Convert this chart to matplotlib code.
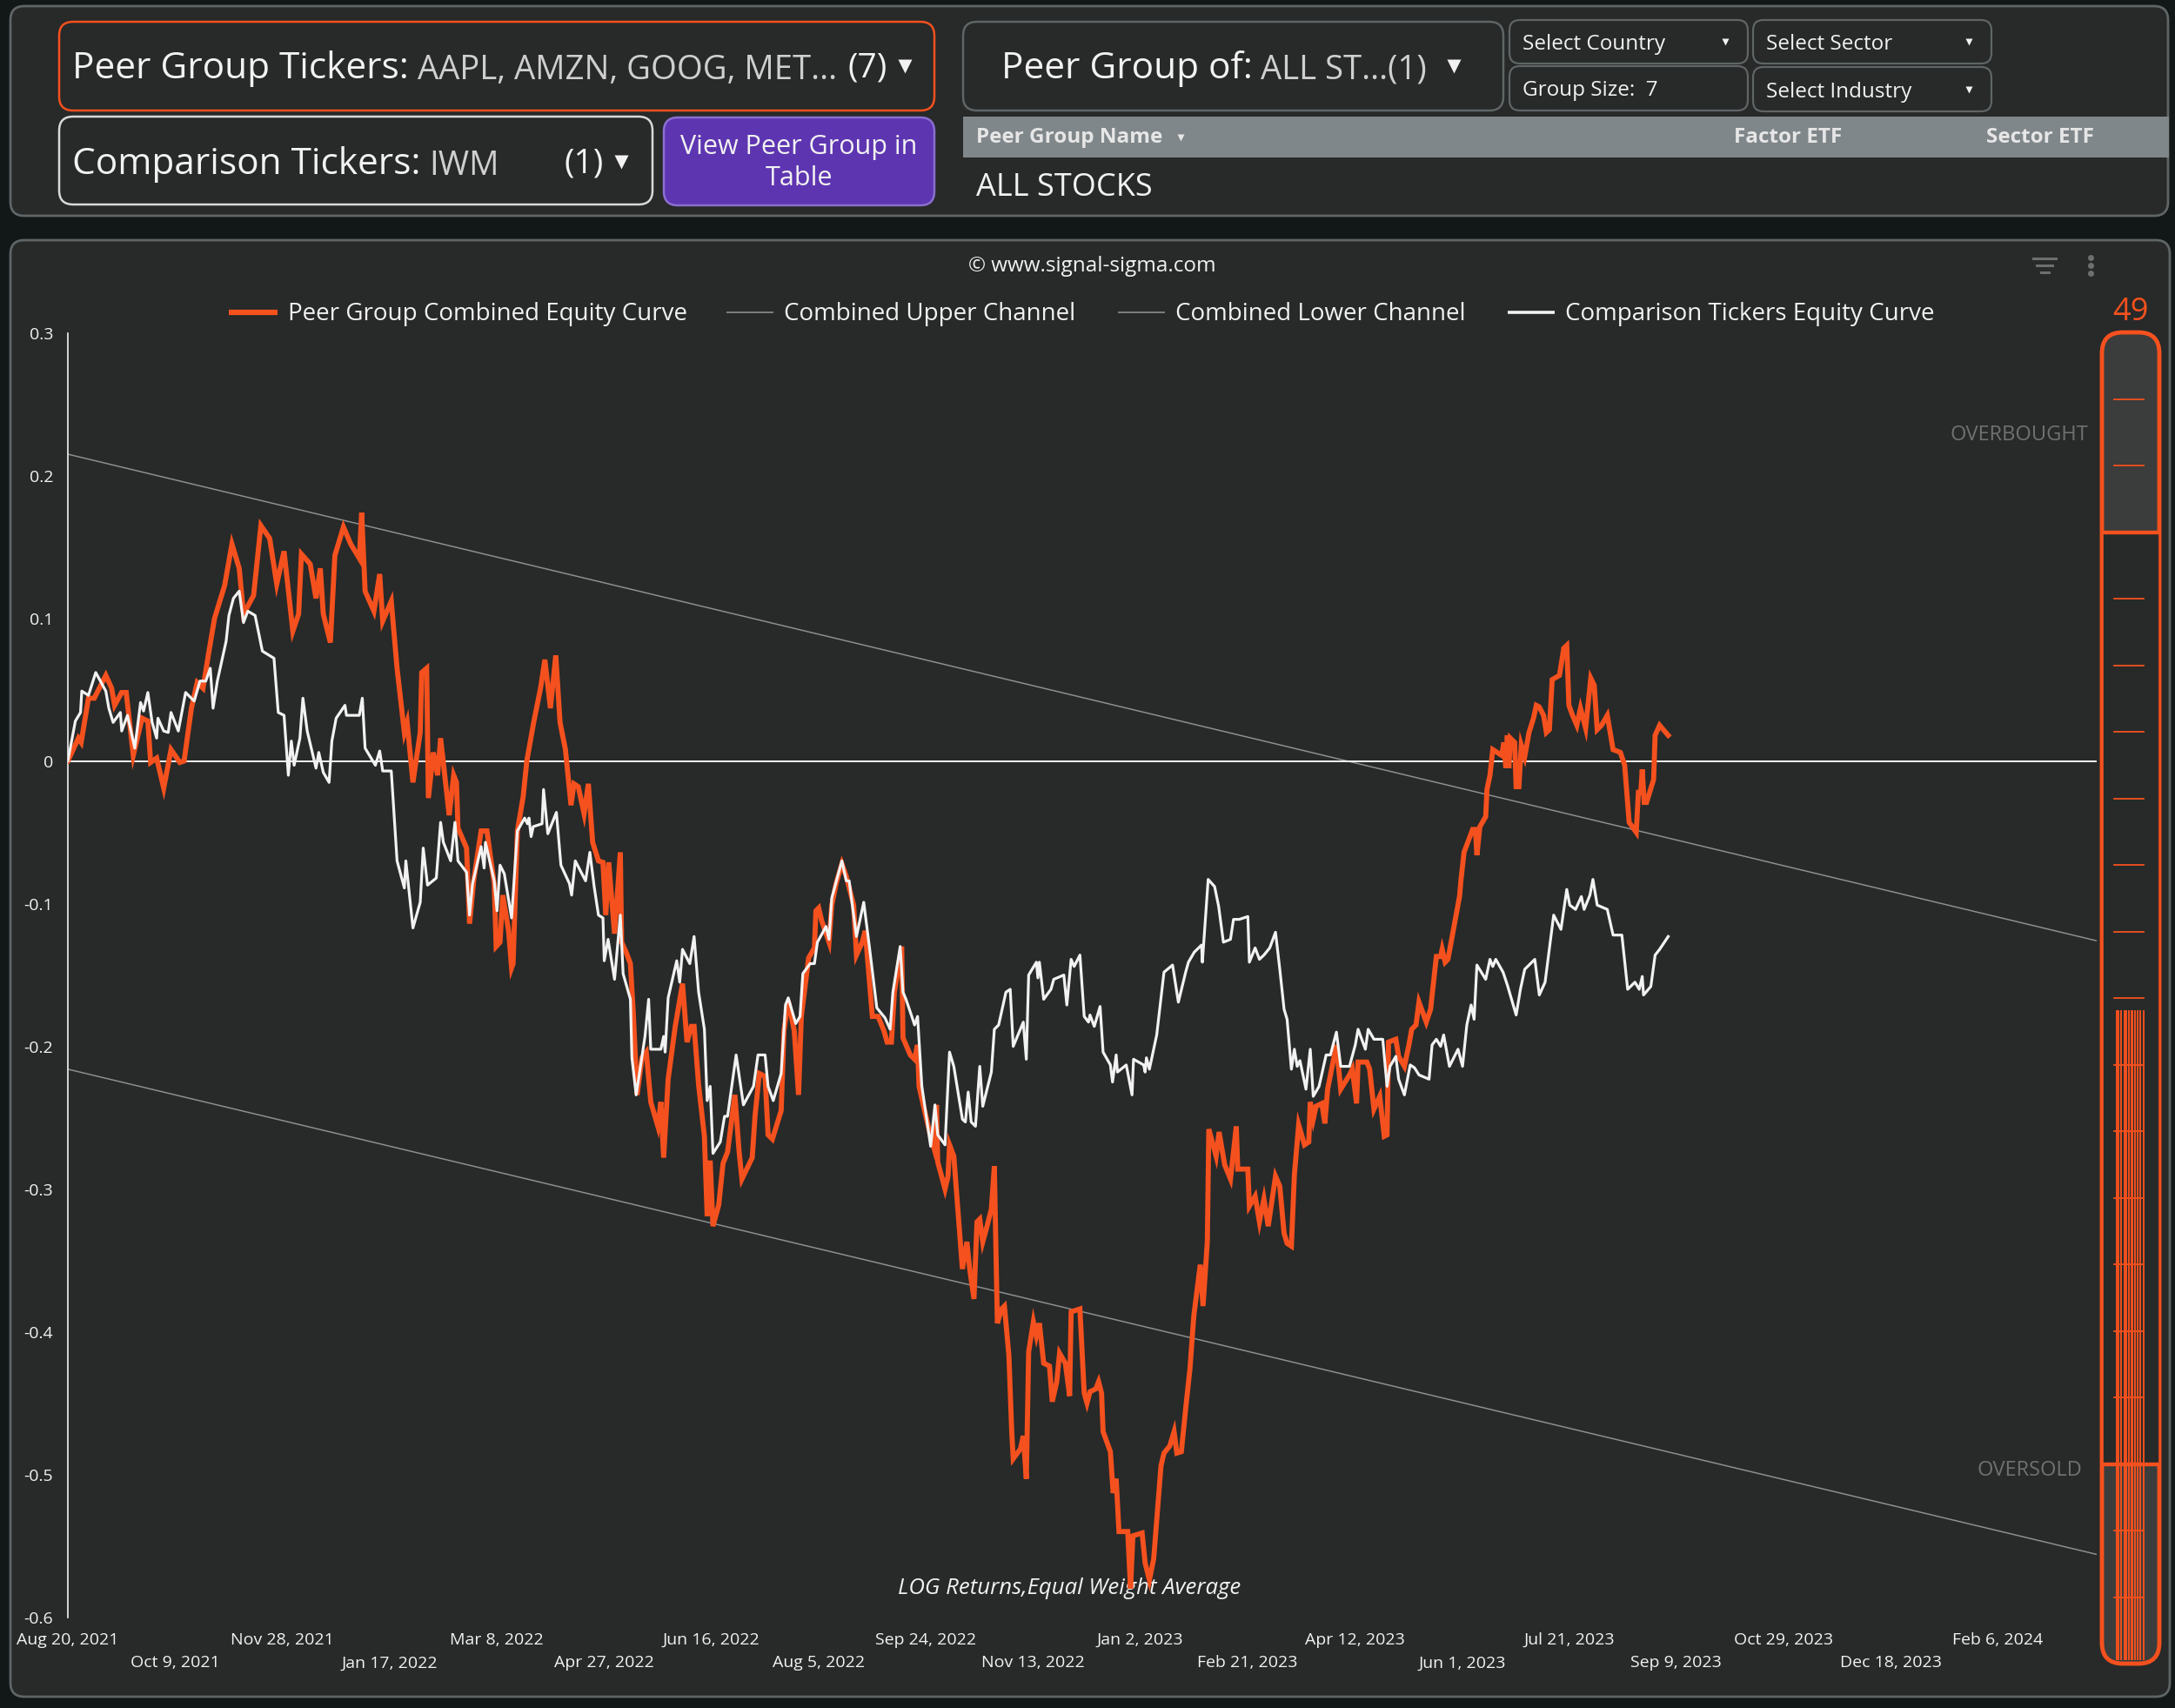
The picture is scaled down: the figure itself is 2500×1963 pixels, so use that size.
import pandas as pd
import matplotlib
matplotlib.use("Agg")
import matplotlib.pyplot as plt
from matplotlib.patches import FancyBboxPatch

START = pd.Timestamp("2021-08-20")

# (days after Aug 20 2021, log return)
peer_points = [
    (0, 0.000), (4.9, 0.016), (6.2, 0.013), (9.6, 0.044), (12.3, 0.044), (17.7, 0.060), (20.4, 0.051),
    (21.8, 0.039), (25.1, 0.048), (27.2, 0.048), (30.5, 0.004), (34.6, 0.030), (37.3, 0.028),
    (38.6, -0.001), (41.4, 0.002), (44.7, -0.019), (48.1, 0.008), (52.2, -0.001), (54.2, 0.000),
    (57.6, 0.037), (60.3, 0.055), (63.0, 0.051), (65.7, 0.076), (68.4, 0.100), (73.1, 0.123),
    (76.5, 0.152), (79.9, 0.135), (81.9, 0.103), (86.6, 0.116), (90.0, 0.165), (94.1, 0.156),
    (97.4, 0.124), (100.8, 0.147), (104.9, 0.091), (107.6, 0.103), (108.9, 0.145), (113.0, 0.138),
    (115.7, 0.114), (117.7, 0.135), (119.1, 0.103), (122.4, 0.083), (124.5, 0.144), (128.5, 0.164),
    (131.9, 0.152), (135.9, 0.142), (137.0, 0.174), (138.6, 0.119), (142.7, 0.105), (145.4, 0.131),
    (146.8, 0.098), (150.8, 0.112), (153.5, 0.065), (156.9, 0.020), (158.2, 0.027), (160.9, -0.015),
    (164.3, 0.020), (165.0, 0.062), (167.3, 0.065), (168.1, -0.026), (170.4, 0.006), (172.4, -0.010),
    (173.8, 0.016), (177.8, -0.038), (179.9, -0.010), (181.2, -0.015), (181.9, -0.047), (185.9, -0.061),
    (187.3, -0.114), (189.3, -0.083), (192.7, -0.049), (195.4, -0.049), (198.8, -0.086), (199.7, -0.130),
    (201.5, -0.127), (202.8, -0.094), (205.5, -0.119), (206.9, -0.145), (207.6, -0.142), (209.6, -0.049),
    (212.3, -0.025), (214.0, 0.000), (217.2, 0.027), (220.4, 0.051), (222.4, 0.071), (225.0, 0.037),
    (227.5, 0.074), (229.5, 0.027), (232.0, 0.008), (234.6, -0.031), (236.0, -0.016), (238.0, -0.018),
    (240.7, -0.037), (242.7, -0.016), (244.7, -0.057), (247.4, -0.070), (249.5, -0.071), (250.8, -0.108),
    (252.2, -0.071), (254.9, -0.121), (257.6, -0.064), (258.2, -0.127), (260.3, -0.134), (262.3, -0.142),
    (263.7, -0.178), (265.4, -0.234), (267.7, -0.208), (269.7, -0.204), (271.8, -0.239), (275.1, -0.256),
    (276.5, -0.239), (277.8, -0.278), (279.9, -0.223), (283.2, -0.186), (286.6, -0.156), (288.7, -0.197),
    (290.7, -0.186), (292.0, -0.186), (294.1, -0.227), (296.8, -0.263), (298.1, -0.319), (299.5, -0.280),
    (300.8, -0.326), (303.5, -0.311), (305.5, -0.282), (307.6, -0.274), (311.0, -0.234), (313.0, -0.274),
    (314.3, -0.293), (319.1, -0.278), (320.4, -0.249), (322.4, -0.219), (325.1, -0.221), (326.5, -0.262),
    (328.5, -0.265), (332.6, -0.245), (333.9, -0.189), (335.9, -0.168), (338.7, -0.189), (340.7, -0.234),
    (342.0, -0.179), (345.4, -0.138), (348.1, -0.131), (348.8, -0.105), (350.1, -0.103), (351.5, -0.112),
    (354.9, -0.127), (356.2, -0.101), (358.2, -0.086), (360.9, -0.072), (363.0, -0.081), (366.4, -0.101),
    (367.7, -0.136), (370.4, -0.127), (371.8, -0.119), (375.1, -0.179), (377.8, -0.179), (380.5, -0.189),
    (382.0, -0.197), (384.0, -0.197), (385.4, -0.162), (388.8, -0.130), (389.4, -0.194), (392.8, -0.206),
    (394.8, -0.209), (396.2, -0.199), (396.9, -0.228), (399.6, -0.246), (402.3, -0.263), (403.6, -0.270),
    (405.0, -0.241), (405.6, -0.281), (409.0, -0.300), (410.4, -0.291), (411.1, -0.269), (413.1, -0.277),
    (415.8, -0.330), (417.1, -0.356), (419.2, -0.337), (420.5, -0.356), (422.5, -0.377), (423.9, -0.323),
    (425.2, -0.321), (426.6, -0.337), (428.6, -0.326), (430.6, -0.314), (432.0, -0.284), (433.4, -0.394),
    (435.4, -0.384), (436.7, -0.382), (438.8, -0.417), (440.1, -0.470), (440.8, -0.489), (444.2, -0.482),
    (445.5, -0.473), (446.9, -0.503), (448.0, -0.414), (450.2, -0.393), (451.6, -0.403), (453.0, -0.394),
    (455.0, -0.422), (457.7, -0.424), (459.0, -0.449), (461.1, -0.435), (462.4, -0.415), (465.1, -0.422),
    (467.1, -0.445), (467.8, -0.386), (471.9, -0.384), (473.9, -0.443), (475.2, -0.450), (476.6, -0.442),
    (479.3, -0.440), (480.6, -0.435), (482.0, -0.443), (482.7, -0.470), (486.1, -0.484), (487.4, -0.513),
    (488.8, -0.503), (490.1, -0.540), (494.2, -0.540), (495.5, -0.580), (496.6, -0.543), (500.9, -0.541),
    (502.3, -0.562), (504.3, -0.574), (506.3, -0.559), (509.7, -0.494), (511.1, -0.485), (513.8, -0.480),
    (515.8, -0.470), (517.1, -0.485), (519.2, -0.484), (521.2, -0.454), (523.2, -0.426), (525.0, -0.389),
    (528.0, -0.353), (529.3, -0.382), (531.3, -0.337), (532.0, -0.258), (535.4, -0.277), (536.8, -0.260),
    (539.4, -0.283), (542.1, -0.293), (544.8, -0.256), (545.5, -0.286), (550.2, -0.286), (550.9, -0.312),
    (553.6, -0.305), (555.6, -0.323), (557.7, -0.307), (559.7, -0.326), (563.1, -0.291), (565.1, -0.298),
    (567.1, -0.331), (568.5, -0.338), (570.5, -0.340), (571.9, -0.290), (573.9, -0.255), (576.6, -0.269),
    (578.6, -0.267), (579.3, -0.239), (580.7, -0.251), (582.0, -0.242), (584.7, -0.240), (586.1, -0.254),
    (587.4, -0.230), (591.5, -0.199), (593.5, -0.230), (597.6, -0.220), (598.9, -0.216), (600.9, -0.240),
    (601.6, -0.211), (605.7, -0.211), (607.0, -0.216), (609.0, -0.244), (611.7, -0.235), (613.8, -0.263),
    (615.1, -0.262), (615.8, -0.197), (619.2, -0.195), (620.5, -0.207), (623.2, -0.214), (625.3, -0.199),
    (626.6, -0.188), (628.6, -0.185), (630.0, -0.169), (633.4, -0.183), (635.4, -0.174), (638.1, -0.137),
    (640.1, -0.137), (640.8, -0.132), (642.2, -0.141), (643.5, -0.139), (648.9, -0.095), (649.6, -0.083),
    (651.0, -0.064), (655.0, -0.048), (656.3, -0.048), (657.0, -0.066), (658.4, -0.046), (661.1, -0.039),
    (661.7, -0.020), (663.1, -0.010), (664.4, 0.008), (668.5, 0.004), (669.6, 0.013), (670.5, -0.005),
    (671.2, 0.018), (671.9, -0.005), (672.6, 0.016), (674.6, 0.013), (675.3, -0.018), (676.6, -0.018),
    (677.7, 0.011), (679.3, 0.003), (681.3, 0.020), (683.4, 0.030), (684.7, 0.039), (686.0, 0.038),
    (688.1, 0.032), (689.4, 0.020), (690.8, 0.022), (692.1, 0.057), (695.5, 0.060), (697.5, 0.079),
    (698.9, 0.081), (699.9, 0.039), (701.6, 0.032), (703.6, 0.025), (705.3, 0.037), (707.7, 0.023),
    (710.1, 0.058), (711.7, 0.053), (713.1, 0.022), (715.1, 0.025), (717.8, 0.032), (720.5, 0.008),
    (723.9, 0.006), (725.9, -0.003), (728.0, -0.043), (731.3, -0.050), (732.3, -0.022), (733.4, -0.022),
    (734.1, -0.006), (735.0, -0.029), (736.1, -0.029), (739.4, -0.013), (740.1, 0.018), (742.2, 0.025),
    (746.2, 0.018),
]

comp_points = [
    (0, 0.000), (3.5, 0.028), (5.9, 0.034), (6.5, 0.049), (9.6, 0.046), (13.0, 0.062), (17.7, 0.049),
    (19.1, 0.037), (21.1, 0.027), (24.5, 0.034), (25.1, 0.021), (27.8, 0.032), (31.2, 0.009),
    (33.9, 0.041), (35.3, 0.035), (37.3, 0.048), (39.3, 0.027), (41.4, 0.016), (42.0, 0.030),
    (44.7, 0.021), (46.8, 0.020), (48.1, 0.034), (51.5, 0.021), (54.9, 0.048), (58.9, 0.042),
    (61.6, 0.056), (64.3, 0.056), (66.4, 0.065), (67.7, 0.037), (69.7, 0.056), (73.8, 0.084),
    (75.1, 0.102), (77.2, 0.114), (79.9, 0.119), (81.9, 0.097), (83.9, 0.105), (87.3, 0.102),
    (90.7, 0.077), (96.1, 0.072), (98.1, 0.034), (100.8, 0.032), (102.8, -0.010), (104.2, 0.014),
    (105.5, -0.003), (108.2, 0.016), (109.6, 0.044), (111.6, 0.021), (115.7, -0.005), (117.0, 0.006),
    (119.1, -0.008), (121.8, -0.015), (123.1, 0.014), (125.1, 0.030), (129.2, 0.039), (129.9, 0.032),
    (135.9, 0.032), (137.3, 0.044), (138.6, 0.009), (143.4, -0.003), (145.4, 0.007), (146.8, -0.007),
    (150.8, -0.007), (153.5, -0.070), (156.9, -0.089), (157.6, -0.070), (160.9, -0.117), (164.3, -0.099),
    (165.7, -0.061), (167.7, -0.087), (171.8, -0.082), (173.8, -0.043), (175.1, -0.057), (178.5, -0.070),
    (180.5, -0.043), (181.9, -0.070), (185.9, -0.078), (187.3, -0.108), (188.7, -0.086), (192.7, -0.060),
    (194.1, -0.075), (194.7, -0.057), (198.8, -0.084), (200.1, -0.105), (201.5, -0.073), (203.5, -0.079),
    (206.9, -0.110), (209.6, -0.049), (213.0, -0.040), (214.3, -0.044), (215.0, -0.040), (216.0, -0.053),
    (217.0, -0.046), (221.1, -0.044), (221.8, -0.020), (223.8, -0.051), (227.8, -0.036), (229.9, -0.073),
    (233.9, -0.086), (234.9, -0.094), (236.6, -0.070), (241.4, -0.084), (243.4, -0.064), (245.4, -0.088),
    (247.4, -0.108), (249.5, -0.110), (250.1, -0.140), (251.9, -0.125), (254.9, -0.153), (257.6, -0.108),
    (258.9, -0.149), (262.3, -0.167), (263.0, -0.208), (265.0, -0.234), (269.1, -0.193), (270.8, -0.167),
    (271.8, -0.202), (276.5, -0.202), (277.8, -0.193), (278.5, -0.204), (279.9, -0.166), (283.9, -0.140),
    (285.3, -0.155), (286.6, -0.132), (290.0, -0.142), (292.0, -0.123), (294.1, -0.162), (296.8, -0.188),
    (298.1, -0.238), (299.5, -0.228), (300.8, -0.275), (304.2, -0.267), (306.2, -0.249), (307.6, -0.249),
    (311.6, -0.206), (315.0, -0.241), (319.7, -0.228), (321.8, -0.206), (325.1, -0.206), (326.5, -0.228),
    (328.9, -0.238), (332.6, -0.219), (334.6, -0.171), (335.9, -0.166), (339.4, -0.184), (341.4, -0.179),
    (342.7, -0.149), (346.1, -0.142), (348.1, -0.142), (349.5, -0.127), (353.5, -0.116), (354.9, -0.125),
    (356.2, -0.096), (360.9, -0.070), (363.0, -0.084), (364.3, -0.084), (367.7, -0.123), (371.1, -0.099),
    (373.8, -0.131), (377.2, -0.173), (381.0, -0.180), (383.4, -0.188), (384.7, -0.162), (388.1, -0.130),
    (389.4, -0.162), (390.8, -0.167), (393.5, -0.179), (394.8, -0.185), (396.2, -0.179), (398.2, -0.228),
    (402.3, -0.270), (404.3, -0.241), (405.6, -0.262), (409.0, -0.269), (411.1, -0.204), (413.1, -0.214),
    (417.1, -0.251), (418.5, -0.253), (419.8, -0.232), (421.2, -0.253), (423.2, -0.256), (425.2, -0.214),
    (426.6, -0.242), (430.6, -0.218), (432.0, -0.188), (434.0, -0.185), (437.4, -0.162), (439.4, -0.160),
    (440.8, -0.200), (445.5, -0.183), (446.9, -0.209), (448.0, -0.150), (451.6, -0.141), (452.3, -0.152),
    (453.0, -0.141), (455.0, -0.167), (458.4, -0.160), (459.7, -0.153), (464.4, -0.150), (465.8, -0.171),
    (467.8, -0.139), (469.2, -0.144), (471.9, -0.136), (473.9, -0.179), (475.9, -0.183), (476.6, -0.178),
    (478.6, -0.186), (481.3, -0.172), (482.7, -0.204), (486.1, -0.213), (487.1, -0.225), (488.8, -0.206),
    (489.4, -0.218), (493.5, -0.213), (496.2, -0.234), (496.9, -0.209), (501.6, -0.213), (502.3, -0.218),
    (502.9, -0.208), (504.3, -0.216), (507.7, -0.192), (511.1, -0.148), (515.1, -0.143), (517.8, -0.169),
    (521.2, -0.148), (522.5, -0.141), (525.2, -0.134), (528.6, -0.129), (529.0, -0.141), (531.7, -0.083),
    (534.7, -0.088), (536.6, -0.102), (538.8, -0.127), (542.1, -0.125), (543.5, -0.111), (546.2, -0.111),
    (550.2, -0.109), (550.9, -0.141), (553.6, -0.131), (555.6, -0.139), (557.7, -0.136), (560.4, -0.131),
    (563.1, -0.120), (565.1, -0.146), (567.1, -0.174), (568.5, -0.181), (570.5, -0.216), (571.9, -0.202),
    (573.2, -0.214), (574.5, -0.210), (577.3, -0.230), (579.3, -0.202), (580.7, -0.235), (583.4, -0.228),
    (586.7, -0.206), (588.7, -0.206), (591.5, -0.190), (593.5, -0.214), (597.6, -0.214), (600.3, -0.199),
    (601.6, -0.188), (605.0, -0.202), (606.3, -0.188), (609.0, -0.195), (613.1, -0.195), (615.1, -0.228),
    (616.5, -0.214), (619.2, -0.207), (620.5, -0.223), (623.2, -0.234), (625.9, -0.213), (627.9, -0.215),
    (630.0, -0.220), (634.7, -0.223), (636.1, -0.199), (638.1, -0.195), (640.1, -0.200), (641.5, -0.192),
    (644.2, -0.214), (648.2, -0.202), (650.3, -0.214), (652.3, -0.185), (654.3, -0.171), (655.7, -0.181),
    (657.0, -0.143), (661.1, -0.153), (663.1, -0.139), (664.4, -0.144), (665.8, -0.139), (669.2, -0.148),
    (671.2, -0.157), (675.3, -0.178), (677.3, -0.160), (679.3, -0.146), (684.0, -0.139), (686.1, -0.164),
    (688.8, -0.155), (692.8, -0.108), (696.2, -0.118), (698.9, -0.090), (700.3, -0.101), (703.0, -0.104),
    (705.7, -0.095), (707.0, -0.104), (709.7, -0.094), (711.1, -0.083), (713.1, -0.101), (717.8, -0.104),
    (720.5, -0.122), (724.6, -0.122), (727.3, -0.160), (730.7, -0.155), (732.7, -0.160), (734.1, -0.151),
    (734.7, -0.164), (738.1, -0.158), (740.1, -0.136), (742.2, -0.132), (746.2, -0.123),
]

channel_days = [0, 946]
upper_channel = [0.215, -0.126]
lower_channel = [-0.216, -0.556]

tick_days = [0, 50, 100, 150, 200, 250, 300, 350, 400, 450, 500, 550, 600, 650, 700, 750, 800, 850, 900]
y_ticks = [0.3, 0.2, 0.1, 0, -0.1, -0.2, -0.3, -0.4, -0.5, -0.6]
y_tick_labels = ["0.3", "0.2", "0.1", "0", "-0.1", "-0.2", "-0.3", "-0.4", "-0.5", "-0.6"]

gauge_value = 49
overbought = 85
oversold = 15

PAGE = "#121718"
PANEL = "#282929"
EDGE = "#5f6566"
ORANGE = "#f4511e"
WHITE = "#f2f2f2"
GREY_TXT = "#cfcfcf"
FONT = ["Open Sans", "DejaVu Sans"]


def rbox(ax, x0, y0, x1, y1, fc, ec, lw=1.6, r=14, z=1):
    p = FancyBboxPatch((x0 + r, y0 + r), x1 - x0 - 2 * r, y1 - y0 - 2 * r,
                       boxstyle="round,pad=%d" % r, fc=fc, ec=ec, lw=lw, zorder=z)
    ax.add_patch(p)


def arrow(ax, x, y, size=11, color=WHITE):
    ax.plot([x], [y], marker="v", ms=size, color=color, mec="none", zorder=5)


def to_dates(days):
    return [START + pd.Timedelta(days=float(d)) for d in days]


def draw_top(ui):
    rbox(ui, 12, 7, 2492, 248, PANEL, EDGE, lw=2, r=16)

    rbox(ui, 68, 25, 1074, 127, PANEL, ORANGE, lw=1.8, r=16, z=2)
    ui.text(83, 79, "Peer Group Tickers:", fontsize=30.5, color=WHITE, va="center", family=FONT)
    ui.text(480, 81, "AAPL, AMZN, GOOG, MET...", fontsize=27.5, color=GREY_TXT, va="center", family=FONT)
    ui.text(974, 79, "(7)", fontsize=28, color=WHITE, va="center", family=FONT)
    arrow(ui, 1040, 76)

    rbox(ui, 68, 134, 750, 235, PANEL, "#d9d9d9", lw=1.8, r=16, z=2)
    ui.text(83, 189, "Comparison Tickers:", fontsize=30.5, color=WHITE, va="center", family=FONT)
    ui.text(493, 191, "IWM", fontsize=27.5, color=GREY_TXT, va="center", family=FONT)
    ui.text(649, 189, "(1)", fontsize=28, color=WHITE, va="center", family=FONT)
    arrow(ui, 714, 186)

    rbox(ui, 763, 135, 1074, 236, "#5e35b1", "#8a6fd0", lw=1.8, r=16, z=2)
    ui.text(918, 187, "View Peer Group in\nTable", fontsize=22, color=WHITE, ha="center",
            va="center", linespacing=1.28, family=FONT)

    rbox(ui, 1107, 25, 1728, 127, PANEL, EDGE, lw=1.8, r=16, z=2)
    ui.text(1151, 79, "Peer Group of:", fontsize=30.5, color=WHITE, va="center", family=FONT)
    ui.text(1449, 81, "ALL ST...(1)", fontsize=27.5, color=GREY_TXT, va="center", family=FONT)
    arrow(ui, 1671, 76)

    small = [(1735, 23, 2009, 73, "Select Country", True),
             (1735, 76, 2009, 127, "Group Size:  7", False),
             (2015, 23, 2289, 73, "Select Sector", True),
             (2015, 77, 2289, 128, "Select Industry", True)]
    for x0, y0, x1, y1, label, has_arrow in small:
        rbox(ui, x0, y0, x1, y1, PANEL, EDGE, lw=1.6, r=12, z=2)
        ui.text(x0 + 15, (y0 + y1) / 2 + 3, label, fontsize=17.5, color=WHITE, va="center", family=FONT)
        if has_arrow:
            arrow(ui, x1 - 26, (y0 + y1) / 2, size=6)

    ui.add_patch(plt.Rectangle((1107, 134), 1386, 47, fc="#80878a", ec="none", zorder=2))
    ui.text(1122, 158, "Peer Group Name", fontsize=17.5, weight="bold", color="#e6e6e6",
            va="center", family=FONT)
    arrow(ui, 1357, 158, size=6, color="#e6e6e6")
    ui.text(1993, 158, "Factor ETF", fontsize=17.5, weight="bold", color="#e6e6e6", va="center", family=FONT)
    ui.text(2283, 158, "Sector ETF", fontsize=17.5, weight="bold", color="#e6e6e6", va="center", family=FONT)
    ui.text(1122, 216, "ALL STOCKS", fontsize=26, color=WHITE, va="center", family=FONT)


def draw_chart_frame(ui):
    rbox(ui, 12, 276, 2494, 1950, PANEL, EDGE, lw=2, r=16)
    ui.text(1255, 306, "\u00a9 www.signal-sigma.com", fontsize=17.5, color=WHITE,
            ha="center", va="center", family=FONT)

    # filter + menu icons
    for w, dy in [(26, -8), (18, 0), (9, 8)]:
        ui.plot([2350 - w / 2, 2350 + w / 2], [305 + dy, 305 + dy], color="#6e6e6e", lw=2.2)
    for dy in [-9, 0, 9]:
        ui.plot([2403], [305 + dy], marker="o", ms=4, color="#6e6e6e")

    legend = [(263, 319, ORANGE, 4.5, "Peer Group Combined Equity Curve"),
              (835, 889, "#8a8f90", 1.2, "Combined Upper Channel"),
              (1285, 1339, "#8a8f90", 1.2, "Combined Lower Channel"),
              (1733, 1787, WHITE, 2.6, "Comparison Tickers Equity Curve")]
    for x0, x1, c, lw, label in legend:
        ui.plot([x0, x1], [359, 359], color=c, lw=lw, solid_capstyle="butt")
        ui.text(x1 + 12, 361, label, fontsize=20, color=WHITE, va="center", family=FONT)

    ui.text(2400, 500, "OVERBOUGHT", fontsize=17, color="#707070", ha="right", va="center", family=FONT)
    ui.text(2393, 1690, "OVERSOLD", fontsize=17, color="#707070", ha="right", va="center", family=FONT)
    ui.text(2449, 359, str(gauge_value), fontsize=26, color=ORANGE, ha="center", va="center", family=FONT)

    # gauge body
    rbox(ui, 2416, 382, 2482, 1912, "#3b3c3c", ORANGE, lw=3.5, r=24, z=2)


def draw_gauge(fig):
    g = fig.add_axes([2416 / 2500, 1 - 1912 / 1963, 66 / 2500, 1530 / 1963])
    g.set_xlim(0, 1)
    g.set_ylim(0, 100)
    g.axis("off")
    g.patch.set_alpha(0)
    g.axhspan(oversold, overbought, xmin=0.03, xmax=0.97, color=PANEL, zorder=1)
    for v in range(5, 100, 5):
        g.plot([0.21, 0.73], [v, v], color=ORANGE, lw=1.3, zorder=3)
    for v in [oversold, overbought]:
        g.plot([0.02, 0.98], [v, v], color=ORANGE, lw=3.2, zorder=4)
    bar_x = [0.25, 0.29, 0.34, 0.39, 0.42, 0.47, 0.51, 0.53, 0.58, 0.62, 0.67, 0.72]
    for x in bar_x:
        g.plot([x, x], [0.3, gauge_value], color=ORANGE, lw=1.4, zorder=3)


def main():
    fig = plt.figure(figsize=(25, 19.63), dpi=100)
    fig.patch.set_facecolor(PAGE)

    ui = fig.add_axes([0, 0, 1, 1])
    ui.set_xlim(0, 2500)
    ui.set_ylim(1963, 0)
    ui.axis("off")
    ui.patch.set_alpha(0)

    draw_top(ui)
    draw_chart_frame(ui)

    ax = fig.add_axes([78 / 2500, 1 - 1858.6 / 1963, (2410 - 78) / 2500, (1858.6 - 382.6) / 1963])
    ax.patch.set_alpha(0)

    peer_days, peer_vals = zip(*peer_points)
    comp_days, comp_vals = zip(*comp_points)

    ax.plot(to_dates(channel_days), upper_channel, color="#8a8f90", lw=1.1, zorder=2)
    ax.plot(to_dates(channel_days), lower_channel, color="#8a8f90", lw=1.1, zorder=2)
    ax.axhline(0, color=WHITE, lw=1.4, zorder=2)
    ax.plot(to_dates(peer_days), peer_vals, color=ORANGE, lw=4.2, zorder=3, solid_joinstyle="miter")
    ax.plot(to_dates(comp_days), comp_vals, color=WHITE, lw=2.3, zorder=4)

    ax.set_xlim(START, START + pd.Timedelta(days=946))
    ax.set_ylim(-0.6, 0.3)

    for s in ["top", "right", "bottom"]:
        ax.spines[s].set_visible(False)
    ax.spines["left"].set_color(WHITE)
    ax.spines["left"].set_linewidth(1.2)

    ax.set_yticks(y_ticks)
    ax.set_yticklabels(y_tick_labels, fontsize=14, color=WHITE, family=FONT)
    ax.tick_params(axis="y", length=0, pad=12)

    tick_dates = to_dates(tick_days)
    labels = [f"{d:%b} {d.day}, {d.year}" for d in tick_dates]
    ax.set_xticks(tick_dates[0::2])
    ax.set_xticklabels(labels[0::2], fontsize=14, color=WHITE, family=FONT)
    ax.set_xticks(tick_dates[1::2], minor=True)
    ax.set_xticklabels(labels[1::2], minor=True, fontsize=14, color=WHITE, family=FONT)
    ax.tick_params(axis="x", which="major", length=0, pad=12.5)
    ax.tick_params(axis="x", which="minor", length=0, pad=31.5)

    ui.text(1229, 1825, "LOG Returns,Equal Weight Average", fontsize=18.5, style="italic",
            color=WHITE, ha="center", va="center", family=FONT, zorder=6)

    draw_gauge(fig)

    fig.savefig("out.png", dpi=100, facecolor=PAGE)


if __name__ == "__main__":
    main()
